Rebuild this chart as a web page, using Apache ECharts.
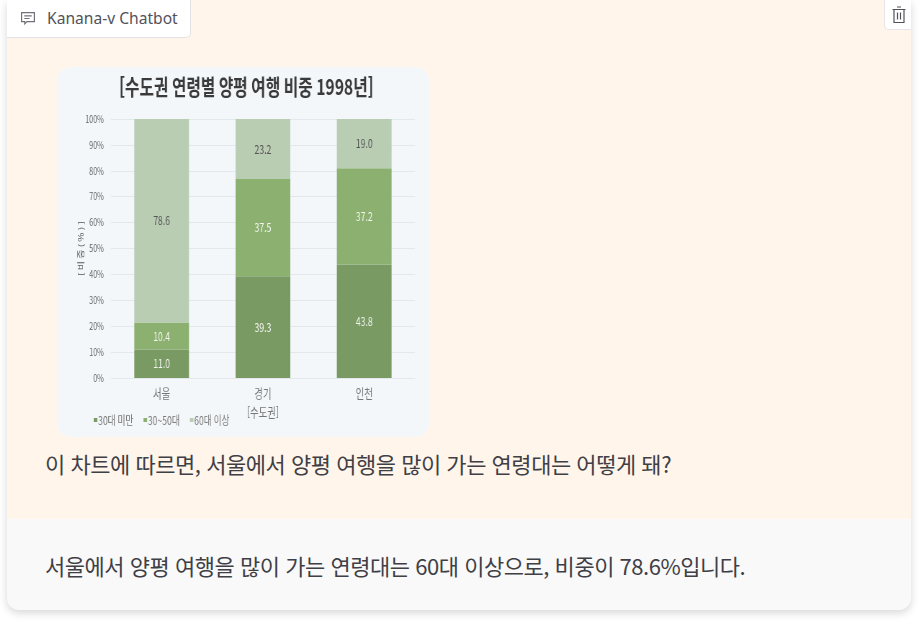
<!DOCTYPE html>
<html lang="ko">
<head>
    <meta charset="UTF-8">
    <title>Kanana-v Chatbot</title>
    <style>
      html, body { margin: 0; padding: 0; width: 920px; height: 624px; background: #fff; overflow: hidden; font-family: "Noto Sans CJK KR", "Noto Sans", sans-serif; color: #3f3f46; }
      .card { position: absolute; left: 7px; top: 0; width: 904px; height: 610px; border-radius: 0 0 12px 12px; background: #f9f9f9; box-shadow: 0 3px 8px rgba(0,0,0,.16); }
      .top { position: absolute; left: 7px; top: 0; width: 904px; height: 519px; background: #fff5eb; }
      .tab { position: absolute; left: 7px; top: 0; width: 183px; height: 37px; background: #fff; border-right: 1px solid #e2e2e6; border-bottom: 1px solid #e2e2e6; border-radius: 0 0 5px 0; font-family: "Noto Sans", sans-serif; font-size: 15.6px; line-height: 37px; color: #52525b; }
      .tab span { position: absolute; left: 40px; top: 0; white-space: nowrap; }
      .tab svg { position: absolute; left: 13px; top: 11px; }
      .del { position: absolute; left: 884px; top: 0; width: 27px; height: 30px; background: #fff; border-left: 1px solid #e6e6ea; border-bottom: 1px solid #e6e6ea; border-radius: 0 0 0 5px; box-sizing: border-box; }
      .del svg { position: absolute; left: 7px; top: 6px; }
      .msg { position: absolute; left: 45px; font-size: 22px; line-height: 30px; white-space: nowrap; letter-spacing: -0.47px; }
      /* the source picture is a squeezed image, so the chart is drawn wider and narrowed */
      #box { position: absolute; left: 57px; top: 67px; width: 372px; height: 370px; border-radius: 14px; overflow: hidden; background: #f3f7fa; }
      #img { width: 517px; height: 370px; transform: scaleX(0.72); transform-origin: 0 0; filter: blur(0.4px); }
    </style>
</head>
<body>
    <div class="card"></div>
    <div class="top"></div>
    <div class="tab">
      <svg width="16" height="16" viewBox="0 0 15 15" fill="none" stroke="#71717a" stroke-width="1.1"><path d="M1.5 1.5h12v8.5h-7l-2 2v-2h-3z"/><path d="M4 4.5h7M4 7h5"/></svg>
      <span>Kanana-v Chatbot</span>
    </div>
    <div class="del">
      <svg width="14" height="18" viewBox="0 0 14 18" fill="none" stroke="#52525b" stroke-width="1.2"><path d="M0.5 3.5h13M5 1h4M2 3.5v13h10v-13M5.5 6.5v7M8.5 6.5v7"/></svg>
    </div>
    <div class="msg" style="top: 448px;">이 차트에 따르면, 서울에서 양평 여행을 많이 가는 연령대는 어떻게 돼?</div>
    <div class="msg" style="top: 550px;">서울에서 양평 여행을 많이 가는 연령대는 60대 이상으로, 비중이 78.6%입니다.</div>
    <div id="box"><div id="img"></div></div>

    <script src="https://cdn.jsdelivr.net/npm/echarts@6/dist/echarts.min.js"></script>
    <script type="text/javascript">
      var categories = ['서울', '경기', '인천'];
      var under30 = [11.0, 39.3, 43.8];
      var age30to50 = [10.4, 37.5, 37.2];
      var over60 = [78.6, 23.2, 19.0];
      var seriesNames = ['30대 미만', '30~50대', '60대 이상'];
      var chartTitle = '[수도권 연령별 양평 여행 비중 1998년]';
      var yName = '[ 비 중 ( % ) ]';
      var xName = '[수도권]';

      var font = '"Noto Sans CJK KR", sans-serif';

      function barSeries(name, data, color, labelColor) {
        return {
          name: name,
          type: 'bar',
          stack: 'total',
          barWidth: 76,
          data: data,
          itemStyle: { color: color },
          label: {
            show: true,
            position: 'inside',
            color: labelColor,
            fontFamily: font,
            fontSize: 12,
            formatter: function (p) { return p.value.toFixed(1); }
          }
        };
      }

      var myChart = echarts.init(document.getElementById('img'));
      var option = {
        animation: false,
        title: {
          text: chartTitle,
          left: 258,
          textAlign: 'center',
          top: 4,
          textStyle: { fontFamily: font, fontSize: 21.8, fontWeight: 'bold', color: '#3a3a3a' }
        },
        legend: {
          left: 46,
          top: 342,
          itemWidth: 5,
          itemHeight: 4,
          itemGap: 14,
          icon: 'rect',
          data: seriesNames,
          textStyle: { fontFamily: font, fontSize: 12, color: '#777', padding: [0, 0, 0, -4] }
        },
        grid: { left: 75, top: 52, width: 422, height: 259, outerBoundsMode: 'none' },
        xAxis: {
          type: 'category',
          data: categories,
          name: xName,
          nameLocation: 'middle',
          nameGap: 28,
          nameTextStyle: { fontFamily: font, fontSize: 13, color: '#777' },
          axisLine: { show: false },
          axisTick: { show: false },
          axisLabel: { fontFamily: font, fontSize: 13, color: '#777', margin: 9 }
        },
        yAxis: {
          type: 'value',
          min: 0,
          max: 100,
          interval: 10,
          name: yName,
          nameLocation: 'middle',
          nameGap: 37,
          nameMoveOverlap: false,
          nameTextStyle: { fontFamily: font, fontSize: 10, color: '#555' },
          axisLine: { show: false },
          axisTick: { show: false },
          axisLabel: { fontFamily: font, fontSize: 10, color: '#666', margin: 10, formatter: '{value}%' },
          splitLine: { lineStyle: { color: '#e3e8ec', width: 1 } }
        },
        series: [
          barSeries(seriesNames[0], under30, '#7a9a64', '#f4f7f1'),
          barSeries(seriesNames[1], age30to50, '#8bb06f', '#f4f7f1'),
          barSeries(seriesNames[2], over60, '#b9cdb3', '#555')
        ]
      };
      myChart.setOption(option);
    </script>
</body>
</html>
